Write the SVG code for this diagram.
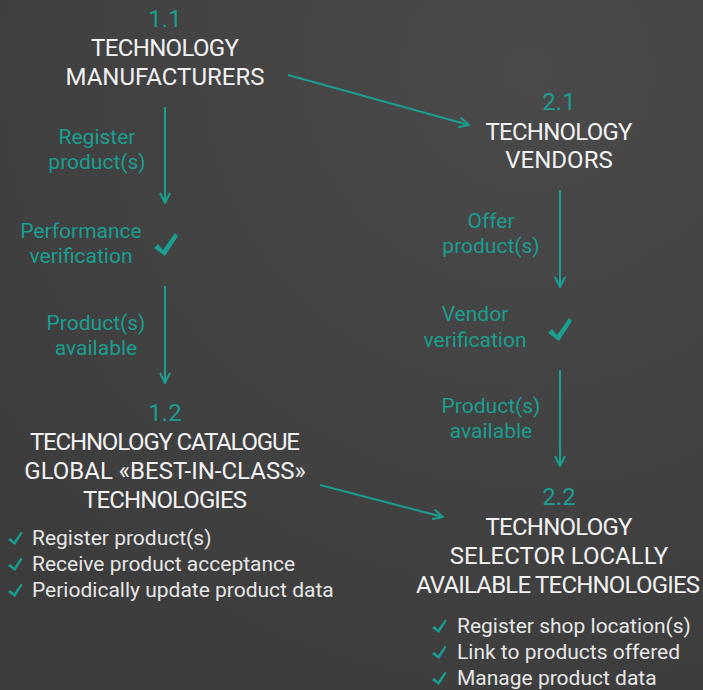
<svg xmlns="http://www.w3.org/2000/svg" width="703" height="690" viewBox="0 0 703 690">
<defs>
<radialGradient id="bg" cx="0.75" cy="0.1" r="1">
<stop offset="0" stop-color="#4a4a4a"/>
<stop offset="1" stop-color="#3c3c3c"/>
</radialGradient>
<marker id="ah" viewBox="0 0 12 12" refX="11" refY="6" markerWidth="12" markerHeight="12" markerUnits="userSpaceOnUse" orient="auto">
<path d="M1,1 L11,6 L1,11" fill="none" stroke="#1a9e8f" stroke-width="2"/>
</marker>
<path id="chk" d="M0,9 L4,5 L9,11 L21,-6 L24,-3 L11,17 Z"/>
<path id="chks" d="M0,5 L2.5,3 L6,6.5 L13,-3.5 L14.5,-2 L7,10 Z"/>
</defs>
<style>
.t{font-family:Roboto,"Liberation Sans",sans-serif;font-size:24px;fill:#f2f2f2;text-anchor:middle}
.n{font-family:Roboto,"Liberation Sans",sans-serif;font-size:24px;fill:#1a9e8f;text-anchor:middle}
.l{font-family:Roboto,"Liberation Sans",sans-serif;font-size:21px;fill:#1a9e8f;text-anchor:middle}
.b{font-family:Roboto,"Liberation Sans",sans-serif;font-size:21px;fill:#e6e6e6}
.c{stroke:#1a9e8f;stroke-width:2;fill:none;marker-end:url(#ah)}
.k{fill:#1a9e8f}
</style>
<rect width="703" height="690" fill="url(#bg)"/>
<g id="connectors">
<line class="c" x1="288" y1="75" x2="469" y2="125"/>
<line class="c" x1="165" y1="107" x2="165" y2="203"/>
<line class="c" x1="165" y1="286" x2="165" y2="383"/>
<line class="c" x1="320" y1="485" x2="443" y2="517"/>
<line class="c" x1="560" y1="190" x2="560" y2="287"/>
<line class="c" x1="560" y1="370" x2="560" y2="466"/>
</g>
<g id="n11">
<text class="n" x="165" y="27">1.1</text>
<text class="t" x="165" y="56" textLength="148">TECHNOLOGY</text>
<text class="t" x="165" y="85">MANUFACTURERS</text>
</g>
<g id="lbl-register">
<text class="l" x="97" y="144">Register</text>
<text class="l" x="97" y="169">product(s)</text>
</g>
<g id="perf">
<text class="l" x="81" y="238">Performance</text>
<text class="l" x="81" y="263">verification</text>
<use href="#chk" class="k" x="154" y="239"/>
</g>
<g id="lbl-avail1">
<text class="l" x="96" y="330">Product(s)</text>
<text class="l" x="96" y="355">available</text>
</g>
<g id="n12">
<text class="n" x="165" y="421">1.2</text>
<text class="t" x="165" y="450" textLength="270">TECHNOLOGY CATALOGUE</text>
<text class="t" x="165" y="479">GLOBAL «BEST-IN-CLASS»</text>
<text class="t" x="165" y="508" textLength="164">TECHNOLOGIES</text>
<use href="#chks" class="k" x="8" y="535"/>
<text class="b" x="32" y="545">Register product(s)</text>
<use href="#chks" class="k" x="8" y="561"/>
<text class="b" x="32" y="571">Receive product acceptance</text>
<use href="#chks" class="k" x="8" y="587"/>
<text class="b" x="32" y="597">Periodically update product data</text>
</g>
<g id="n21">
<text class="n" x="559" y="110">2.1</text>
<text class="t" x="559" y="140" textLength="147">TECHNOLOGY</text>
<text class="t" x="559" y="168">VENDORS</text>
</g>
<g id="lbl-offer">
<text class="l" x="491" y="228">Offer</text>
<text class="l" x="491" y="253">product(s)</text>
</g>
<g id="vendor">
<text class="l" x="475" y="321">Vendor</text>
<text class="l" x="475" y="347">verification</text>
<use href="#chk" class="k" x="548" y="324"/>
</g>
<g id="lbl-avail2">
<text class="l" x="491" y="413">Product(s)</text>
<text class="l" x="491" y="438">available</text>
</g>
<g id="n22">
<text class="n" x="559" y="505">2.2</text>
<text class="t" x="559" y="535" textLength="147">TECHNOLOGY</text>
<text class="t" x="559" y="564">SELECTOR LOCALLY</text>
<text class="t" x="558" y="593" textLength="284">AVAILABLE TECHNOLOGIES</text>
<use href="#chks" class="k" x="432" y="623"/>
<text class="b" x="457" y="633">Register shop location(s)</text>
<use href="#chks" class="k" x="432" y="649"/>
<text class="b" x="457" y="659">Link to products offered</text>
<use href="#chks" class="k" x="432" y="675"/>
<text class="b" x="457" y="685">Manage product data</text>
</g>
</svg>
